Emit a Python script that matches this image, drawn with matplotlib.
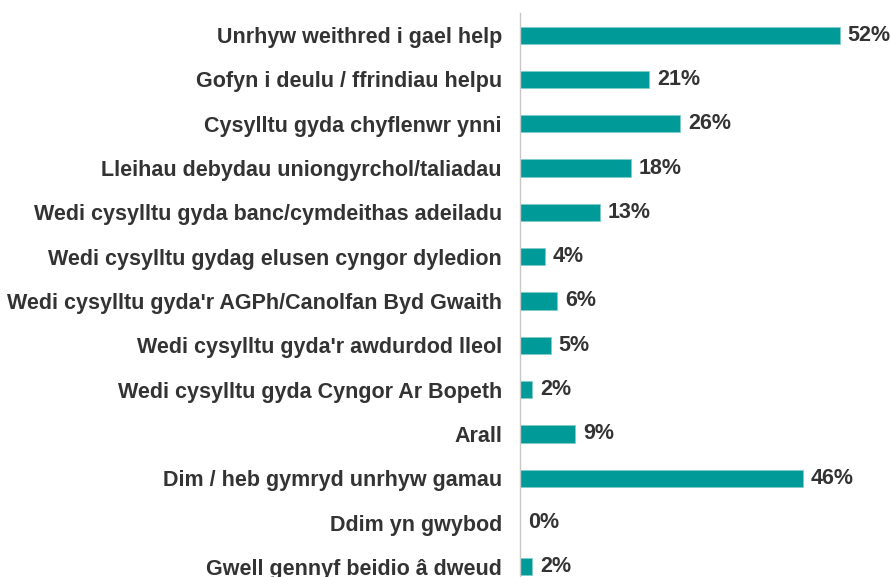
import matplotlib.pyplot as plt

labels = ["Unrhyw weithred i gael help",
          "Gofyn i deulu / ffrindiau helpu",
          "Cysylltu gyda chyflenwr ynni",
          "Lleihau debydau uniongyrchol/taliadau",
          "Wedi cysylltu gyda banc/cymdeithas adeiladu",
          "Wedi cysylltu gydag elusen cyngor dyledion",
          "Wedi cysylltu gyda'r AGPh/Canolfan Byd Gwaith",
          "Wedi cysylltu gyda'r awdurdod lleol",
          "Wedi cysylltu gyda Cyngor Ar Bopeth",
          "Arall",
          "Dim / heb gymryd unrhyw gamau",
          "Ddim yn gwybod",
          "Gwell gennyf beidio â dweud"]
values = [52, 21, 26, 18, 13, 4, 6, 5, 2, 9, 46, 0, 2]

plt.rcParams['font.family'] = ['Liberation Sans', 'DejaVu Sans']
txtcol = '#333333'
fs = 15.5

fig = plt.figure(figsize=(8.92, 5.77), dpi=100)
ax = fig.add_axes([520/892, 0, 369/892, 1 - 13/577])

y = range(len(labels))
ax.barh(y, values, height=0.39, color='#009b98', edgecolor='#7fcdcb', linewidth=0.6)
for i, v in enumerate(values):
    ax.text(v + 1.3, i, f"{v}%", va='center', ha='left', fontsize=fs,
            fontweight='bold', color=txtcol)

ax.set_xlim(0, 60)
ax.set_ylim(12.23, -0.5)
ax.set_yticks(list(y))
ax.set_yticklabels(labels, fontsize=fs, fontweight='bold', color=txtcol)
ax.tick_params(axis='y', length=0, pad=13)
ax.set_xticks([])
for s in ['top', 'right', 'bottom']:
    ax.spines[s].set_visible(False)
ax.spines['left'].set_color('#c8c8c8')
ax.spines['left'].set_linewidth(1)

fig.savefig('out.png', dpi=100)
